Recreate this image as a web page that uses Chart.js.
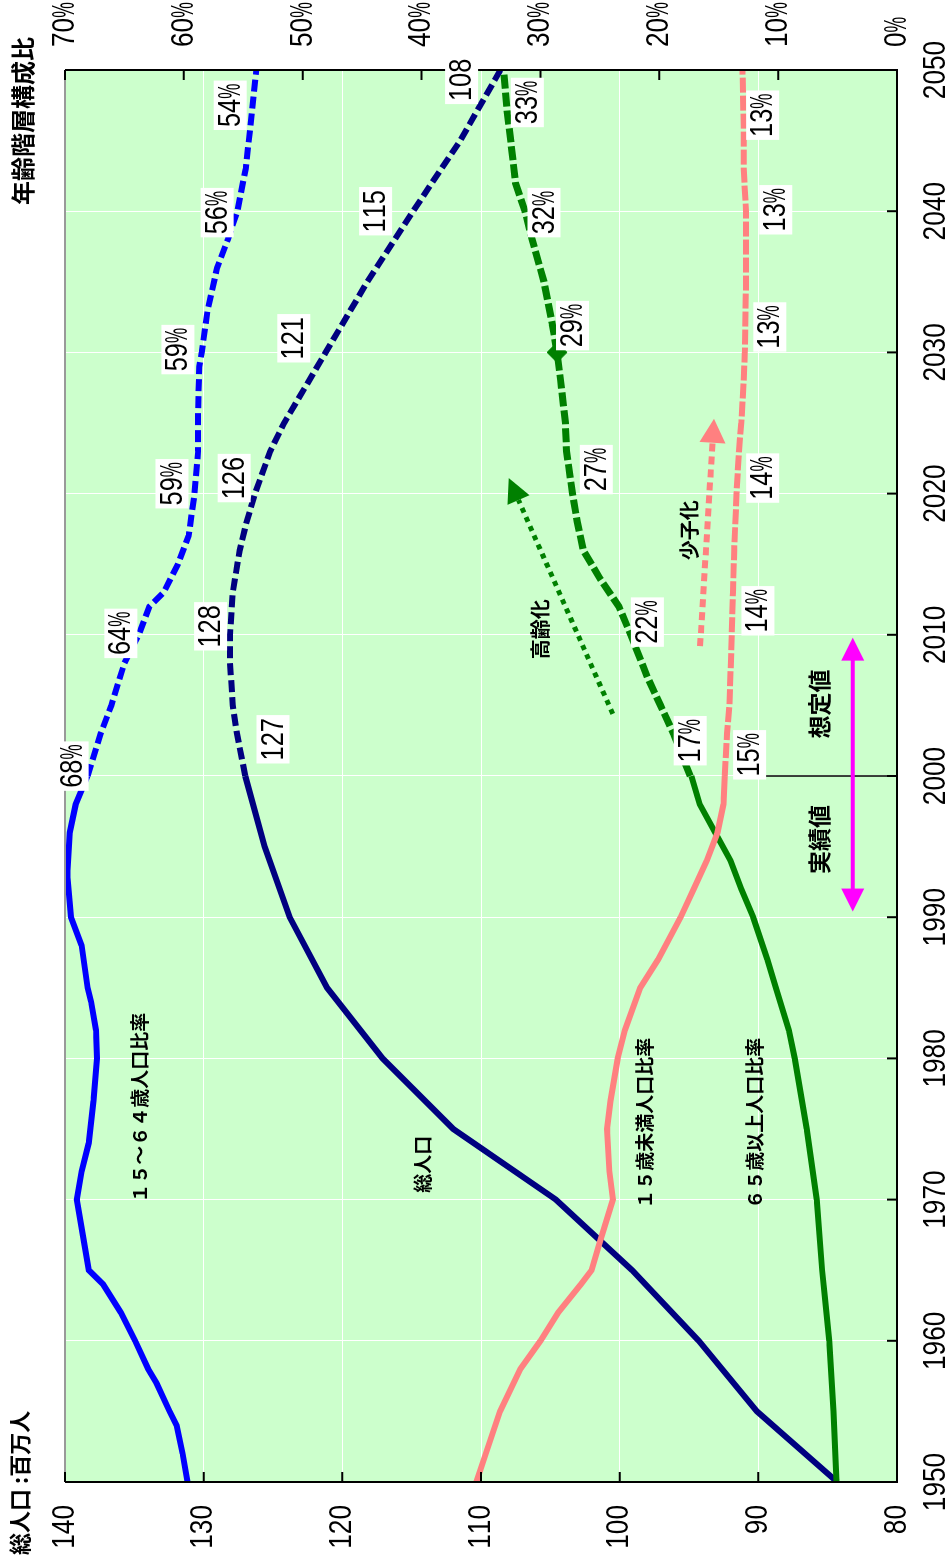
<!DOCTYPE html>
<html lang="ja">
<head>
<meta charset="utf-8">
<title>総人口と年齢階層構成比</title>
<script src="https://cdn.jsdelivr.net/npm/chart.js@4.4.1/dist/chart.umd.min.js"></script>
<style>
  html, body { margin: 0; padding: 0; background: #fff; overflow: hidden; }
  /* グラフは横長で描いて、90度回転させて縦長にする */
  #wrap {
    position: absolute; left: 0; top: 0;
    width: 1561px; height: 950px;
    transform-origin: 0 0;
    transform: translate(0, 1561px) rotate(-90deg);
  }
</style>
</head>
<body>
<div id="wrap"><canvas id="popChart" width="1561" height="950"></canvas></div>
<script>
// 総人口（百万人）
const popActualYears = [1950, 1955, 1960, 1965, 1970, 1975, 1980, 1985, 1990, 1995, 2000];
const popActual      = [84.3, 90.1, 94.3, 99.1, 104.6, 112.0, 117.1, 121.1, 123.8, 125.6, 127.0];
const popProjYears   = [2000, 2003, 2005, 2008, 2010, 2013, 2016, 2018, 2020, 2023, 2025, 2030, 2035, 2040, 2045, 2050];
const popProj        = [127.0, 127.6, 127.9, 128.1, 128.1, 127.9, 127.4, 126.9, 126.3, 125.2, 124.2, 121.2, 118.2, 114.9, 111.5, 108.6];

// 15～64歳人口比率（%）
const workActualYears = [1950, 1952, 1954, 1955, 1957, 1958, 1960, 1962, 1964, 1965, 1967, 1970, 1972, 1974, 1977, 1980, 1982, 1984, 1985, 1988, 1990, 1993, 1996, 1998, 2000];
const workActual      = [59.7, 60.1, 60.6, 61.2, 62.3, 63.0, 64.1, 65.3, 66.8, 68.0, 68.4, 69.0, 68.6, 68.0, 67.6, 67.3, 67.4, 67.8, 68.1, 68.6, 69.5, 69.8, 69.6, 69.1, 68.1];
const workProjYears   = [2000, 2003, 2005, 2008, 2010, 2012, 2013, 2015, 2017, 2020, 2023, 2026, 2029, 2030, 2033, 2036, 2038, 2040, 2043, 2046, 2050];
const workProj        = [68.1, 67.0, 66.1, 65.0, 63.8, 62.9, 61.7, 60.5, 59.6, 59.1, 58.8, 58.8, 58.7, 58.5, 58.0, 57.2, 56.3, 55.5, 54.8, 54.4, 53.9];

// 15歳未満人口比率（%）
const childActualYears = [1950, 1952, 1955, 1958, 1960, 1962, 1964, 1965, 1967, 1970, 1972, 1975, 1977, 1980, 1982, 1985, 1987, 1990, 1992, 1994, 1996, 1998, 2000];
const childActual      = [35.4, 34.6, 33.4, 31.7, 30.0, 28.5, 26.6, 25.7, 25.0, 23.9, 24.2, 24.4, 24.1, 23.5, 22.9, 21.6, 20.1, 18.2, 17.1, 16.0, 15.1, 14.6, 14.5];
const childProjYears   = [2000, 2003, 2005, 2010, 2013, 2016, 2020, 2023, 2025, 2028, 2030, 2035, 2040, 2043, 2046, 2050];
const childProj        = [14.5, 14.3, 14.1, 13.9, 13.8, 13.7, 13.5, 13.3, 13.1, 12.9, 12.8, 12.7, 12.7, 12.9, 12.9, 13.0];

// 65歳以上人口比率（%）
const elderActualYears = [1950, 1955, 1960, 1963, 1965, 1970, 1975, 1980, 1982, 1985, 1987, 1990, 1992, 1994, 1996, 1998, 2000];
const elderActual      = [5.1, 5.35, 5.7, 6.05, 6.3, 6.75, 7.6, 8.6, 9.1, 10.2, 10.9, 12.1, 13.1, 14.0, 15.3, 16.6, 17.3];
const elderProjYears   = [2000, 2003, 2005, 2007, 2010, 2012, 2014, 2016, 2018, 2020, 2023, 2025, 2028, 2030, 2032, 2035, 2038, 2040, 2042, 2045, 2047, 2050];
const elderProj        = [17.4, 18.8, 19.9, 21.0, 22.4, 23.4, 25.0, 26.4, 26.9, 27.3, 27.8, 27.9, 28.3, 28.6, 29.0, 29.7, 30.7, 31.3, 32.1, 32.5, 32.8, 33.1];
const elderMarkYear = [2030];
const elderMark     = [28.6];

// 目盛
const yearTicks = [1950, 1960, 1970, 1980, 1990, 2000, 2010, 2020, 2030, 2040, 2050];
const popTicks  = [80, 90, 100, 110, 120, 130, 140];
const pctTicks  = [0, 10, 20, 30, 40, 50, 60, 70];

const NUM_FONT = "'Liberation Sans', Arial, sans-serif";
const JP_FONT = "'Noto Sans CJK JP', 'Noto Sans CJK SC', sans-serif";

const pts = (xs, ys) => xs.map((x, i) => ({ x: x, y: ys[i] }));

// 数値ラベル（年, 値, 軸, 文字）
const valueLabels = [
    [2000.7, 69.4, 'yPct', '68%'], [2010.1, 65.3, 'yPct', '64%'], [2020.7, 61.0, 'yPct', '59%'],
    [2030.2, 60.5, 'yPct', '59%'], [2039.9, 57.2, 'yPct', '56%'], [2047.5, 56.1, 'yPct', '54%'],
    [2002.6, 125.0, 'y', '127'], [2010.6, 129.5, 'y', '128'], [2021.1, 127.8, 'y', '126'],
    [2031.0, 123.5, 'y', '121'], [2040.0, 117.6, 'y', '115'], [2049.3, 111.4, 'y', '108'],
    [2002.5, 17.4, 'yPct', '17%'], [2010.9, 21.0, 'yPct', '22%'], [2021.7, 25.3, 'yPct', '27%'],
    [2031.9, 27.3, 'yPct', '29%'], [2039.9, 29.7, 'yPct', '32%'], [2047.7, 31.1, 'yPct', '33%'],
    [2001.5, 12.4, 'yPct', '15%'], [2011.7, 11.7, 'yPct', '14%'], [2021.1, 11.3, 'yPct', '14%'],
    [2031.8, 10.7, 'yPct', '13%'], [2040.1, 10.2, 'yPct', '13%'], [2046.8, 11.3, 'yPct', '13%']
];
// 系列名などの文字（年, 総人口軸の値, 文字, 太さ, 大きさ）
const notes = [
    [1976.5, 134.6, '１５～６４歳人口比率', 'bold', 19],
    [1972.5, 114.2, '総人口', 'bold', 19],
    [1975.4, 98.2, '１５歳未満人口比率', 'bold', 19],
    [1975.4, 90.25, '６５歳以上人口比率', 'bold', 19],
    [2010.4, 105.7, '高齢化', 'bold', 20],
    [2017.4, 95.0, '少子化', 'bold', 20],
    [1995.5, 85.6, '実績値', 'bold', 23],
    [2005.1, 85.6, '想定値', 'bold', 23]
];

// 細長い数字（Arial Narrow 風）を1文字ずつ横に縮めて描く
function drawNum(ctx, text, x, y, align, size) {
    ctx.font = size + 'px ' + NUM_FONT;
    const parts = [...text].map(c => ({ c: c, f: c === '%' ? 0.55 : 0.82, w: ctx.measureText(c).width }));
    const total = parts.reduce((s, p) => s + p.w * p.f, 0);
    let cx = align === 'center' ? x - total / 2 : (align === 'right' ? x - total : x);
    ctx.textAlign = 'left';
    ctx.textBaseline = 'middle';
    parts.forEach(p => {
        ctx.save();
        ctx.translate(cx, y);
        ctx.scale(p.f, 1);
        ctx.fillText(p.c, 0, 0);
        ctx.restore();
        cx += p.w * p.f;
    });
    return total;
}

function numWidth(ctx, text, size) {
    ctx.font = size + 'px ' + NUM_FONT;
    return [...text].reduce((s, c) => s + ctx.measureText(c).width * (c === '%' ? 0.55 : 0.82), 0);
}

function arrowHead(ctx, x1, y1, x2, y2, len, width) {
    const a = Math.atan2(y2 - y1, x2 - x1);
    const bx = x2 - len * Math.cos(a), by = y2 - len * Math.sin(a);
    ctx.beginPath();
    ctx.moveTo(x2, y2);
    ctx.lineTo(bx - width / 2 * Math.sin(a), by + width / 2 * Math.cos(a));
    ctx.lineTo(bx + width / 2 * Math.sin(a), by - width / 2 * Math.cos(a));
    ctx.closePath();
    ctx.fill();
    return [bx, by];
}

const decor = {
    id: 'decor',
    beforeDraw(chart) {
        const { ctx, chartArea: a } = chart;
        ctx.save();
        ctx.fillStyle = '#CCFFCC';
        ctx.fillRect(a.left, a.top, a.right - a.left, a.bottom - a.top);
        ctx.restore();
    },
    afterDatasetsDraw(chart) {
        const { ctx, chartArea: a, scales } = chart;
        const xs = scales.x, ys = scales.y, ps = scales.yPct;
        ctx.save();

        // 枠
        ctx.lineWidth = 2;
        ctx.strokeStyle = '#999';
        ctx.beginPath(); ctx.moveTo(a.left, a.top); ctx.lineTo(a.right, a.top); ctx.stroke();
        ctx.strokeStyle = '#000';
        ctx.beginPath();
        ctx.moveTo(a.left, a.top); ctx.lineTo(a.left, a.bottom); ctx.lineTo(a.right, a.bottom); ctx.lineTo(a.right, a.top);
        ctx.stroke();

        // 内向きの目盛
        ctx.beginPath();
        xs.ticks.forEach(t => { const x = xs.getPixelForValue(t.value); ctx.moveTo(x, a.bottom); ctx.lineTo(x, a.bottom - 10); });
        ys.ticks.forEach(t => { const y = ys.getPixelForValue(t.value); ctx.moveTo(a.left, y); ctx.lineTo(a.left + 10, y); });
        ps.ticks.forEach(t => { const y = ps.getPixelForValue(t.value); ctx.moveTo(a.right, y); ctx.lineTo(a.right - 10, y); });
        ctx.stroke();

        // 目盛の数字
        ctx.fillStyle = '#000';
        xs.ticks.forEach(t => drawNum(ctx, String(t.value), xs.getPixelForValue(t.value), a.bottom + 39, 'center', 32));
        ys.ticks.forEach(t => drawNum(ctx, String(t.value), a.left - 23, ys.getPixelForValue(t.value), 'right', 32));
        ps.ticks.forEach(t => drawNum(ctx, t.value + '%', a.right + 23, ps.getPixelForValue(t.value), 'left', 32));

        // 2000年の区切り線
        ctx.lineWidth = 1.5;
        ctx.beginPath();
        ctx.moveTo(xs.getPixelForValue(2000), ys.getPixelForValue(90.2));
        ctx.lineTo(xs.getPixelForValue(2000), a.bottom);
        ctx.stroke();

        // 実績値・想定値の両矢印
        const mx1 = xs.getPixelForValue(1990.4), mx2 = xs.getPixelForValue(2009.8), my = ys.getPixelForValue(83.2);
        ctx.fillStyle = '#FF00FF';
        ctx.strokeStyle = '#FF00FF';
        ctx.lineWidth = 4;
        ctx.beginPath(); ctx.moveTo(mx1 + 20, my); ctx.lineTo(mx2 - 20, my); ctx.stroke();
        arrowHead(ctx, mx2, my, mx1, my, 23, 23);
        arrowHead(ctx, mx1, my, mx2, my, 23, 23);

        // 高齢化・少子化の点線矢印
        const dotted = (y1, v1, y2, v2, color, lw, dash, len, wid) => {
            const x1 = xs.getPixelForValue(y1), yy1 = ys.getPixelForValue(v1);
            const x2 = xs.getPixelForValue(y2), yy2 = ys.getPixelForValue(v2);
            ctx.fillStyle = color;
            ctx.strokeStyle = color;
            const base = arrowHead(ctx, x1, yy1, x2, yy2, len, wid);
            ctx.lineWidth = lw;
            ctx.setLineDash(dash);
            ctx.beginPath(); ctx.moveTo(x1, yy1); ctx.lineTo(base[0], base[1]); ctx.stroke();
            ctx.setLineDash([]);
        };
        dotted(2004.4, 100.5, 2021.1, 108.0, '#008000', 5, [5, 5], 24, 24);
        dotted(2009.2, 94.2, 2025.3, 93.2, '#FF8080', 6, [8, 5], 24, 26);

        // 文字
        ctx.fillStyle = '#000';
        ctx.textAlign = 'center';
        ctx.textBaseline = 'middle';
        notes.forEach(n => {
            ctx.font = n[3] + ' ' + n[4] + 'px ' + JP_FONT;
            ctx.fillText(n[2], xs.getPixelForValue(n[0]), ys.getPixelForValue(n[1]));
        });

        // 軸タイトル
        ctx.textAlign = 'left';
        ctx.font = 'bold 22px ' + JP_FONT;
        ctx.fillText('総人口 :百万人', 6, 20);
        ctx.font = 'bold 24px ' + JP_FONT;
        ctx.fillText('年齢階層構成比', 1356, 23);

        // 白枠の数値ラベル
        valueLabels.forEach(l => {
            const x = xs.getPixelForValue(l[0]);
            const y = scales[l[2]].getPixelForValue(l[1]);
            const w = numWidth(ctx, l[3], 31) + 6, h = 33;
            ctx.fillStyle = '#fff';
            ctx.fillRect(x - w / 2, y - h / 2, w, h);
            ctx.fillStyle = '#000';
            drawNum(ctx, l[3], x, y + 1, 'center', 31);
        });
        ctx.restore();
    }
};

function lineSet(data, color, width, dash, axis) {
    return {
        data: data,
        borderColor: color,
        backgroundColor: color,
        borderWidth: width,
        borderDash: dash || [],
        pointRadius: 0,
        tension: 0,
        yAxisID: axis
    };
}

new Chart(document.getElementById('popChart').getContext('2d'), {
    type: 'line',
    data: {
        datasets: [
            lineSet(pts(workActualYears, workActual), '#0000FF', 6, null, 'yPct'),
            lineSet(pts(workProjYears, workProj), '#0000FF', 6, [12, 5], 'yPct'),
            lineSet(pts(childActualYears, childActual), '#FF8080', 6, null, 'yPct'),
            lineSet(pts(childProjYears, childProj), '#FF8080', 6, [15, 3], 'yPct'),
            lineSet(pts(elderActualYears, elderActual), '#008000', 6, null, 'yPct'),
            lineSet(pts(elderProjYears, elderProj), '#008000', 7, [14, 4], 'yPct'),
            lineSet(pts(popActualYears, popActual), '#000080', 6, null, 'y'),
            lineSet(pts(popProjYears, popProj), '#000080', 6, [12, 5], 'y'),
            {
                data: pts(elderMarkYear, elderMark),
                showLine: false,
                pointStyle: 'rectRot',
                pointRadius: 10,
                backgroundColor: '#008000',
                borderColor: '#008000',
                yAxisID: 'yPct'
            }
        ]
    },
    options: {
        responsive: false,
        animation: false,
        devicePixelRatio: 1,
        layout: { padding: { top: 65, left: 0, right: 0, bottom: 0 } },
        plugins: { legend: { display: false }, tooltip: { enabled: false } },
        scales: {
            x: {
                type: 'linear', position: 'bottom', min: 1950, max: 2050,
                afterBuildTicks: s => { s.ticks = yearTicks.map(v => ({ value: v })); },
                afterFit: s => { s.height = 53; },
                ticks: { display: false },
                grid: { color: '#fff', lineWidth: 1, drawTicks: false },
                border: { display: false }
            },
            y: {
                type: 'linear', position: 'left', min: 80, max: 140,
                afterBuildTicks: s => { s.ticks = popTicks.map(v => ({ value: v })); },
                afterFit: s => { s.width = 79; },
                ticks: { display: false },
                grid: { color: '#fff', lineWidth: 1, drawTicks: false },
                border: { display: false }
            },
            yPct: {
                type: 'linear', position: 'right', min: 0, max: 70,
                afterBuildTicks: s => { s.ticks = pctTicks.map(v => ({ value: v })); },
                afterFit: s => { s.width = 70; },
                ticks: { display: false },
                grid: { display: false, drawTicks: false },
                border: { display: false }
            }
        }
    },
    plugins: [decor]
});
</script>
</body>
</html>
